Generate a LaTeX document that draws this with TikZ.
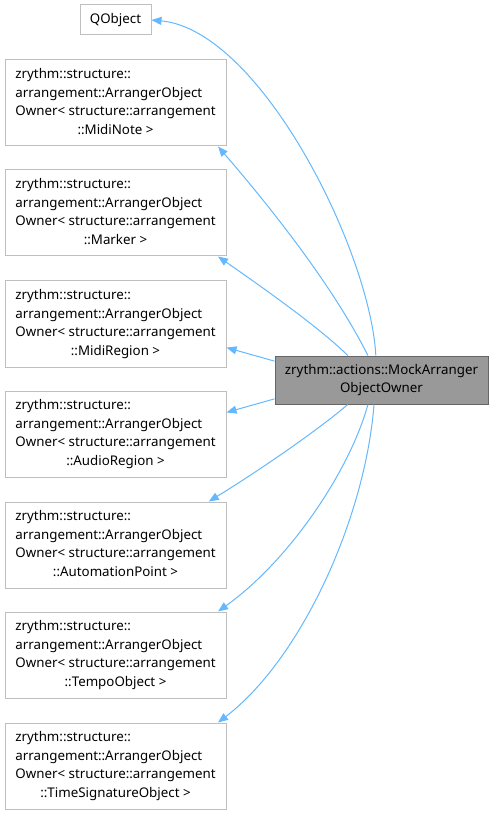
\documentclass[tikz,border=0pt]{standalone}
\usepackage{fontspec}
\setmainfont{Noto Sans}
\usetikzlibrary{arrows.meta}

\definecolor{edgeblue}{HTML}{63B8FF}
\definecolor{boxgray}{HTML}{BFBFBF}
\definecolor{maingray}{HTML}{999999}
\definecolor{mainborder}{HTML}{666666}

\tikzset{
    classbox/.style={draw=boxgray, fill=white, line width=0.75pt, inner sep=0pt,
        minimum width=165.75pt, minimum height=64.5pt,
        font=\fontsize{10}{13.9}\selectfont},
    mainbox/.style={draw=mainborder, fill=maingray, line width=0.75pt, inner sep=0pt,
        minimum width=159.75pt, minimum height=36pt, align=center,
        font=\fontsize{10}{13.9}\selectfont},
    inherit/.style={draw=edgeblue, line width=0.75pt, -{Triangle[length=7.5pt,width=6pt]}}
}

% label of one ArrangerObjectOwner instance
\newcommand{\ownerlabel}[1]{\begin{tabular}{@{}l@{}}
zrythm::structure::\\
arrangement::ArrangerObject\\
Owner< structure::arrangement\\
\multicolumn{1}{@{}c@{}}{::#1 >}
\end{tabular}}

\begin{document}
\begin{tikzpicture}[x=0.75pt, y=-0.75pt]
    \useasboundingbox (0,0) rectangle (494,816);

    % Base classes
    \node[classbox, minimum width=53.25pt, minimum height=22.5pt] (qobj) at (115.5, 20) {QObject};
    \node[classbox] (midinote) at (115.5, 103) {\ownerlabel{MidiNote}};
    \node[classbox] (marker) at (115.5, 213) {\ownerlabel{Marker}};
    \node[classbox] (midiregion) at (115.5, 324) {\ownerlabel{MidiRegion}};
    \node[classbox] (audioregion) at (115.5, 434) {\ownerlabel{AudioRegion}};
    \node[classbox] (autopoint) at (115.5, 545) {\ownerlabel{AutomationPoint}};
    \node[classbox] (tempo) at (115.5, 655) {\ownerlabel{TempoObject}};
    \node[classbox] (timesig) at (115.5, 766) {\ownerlabel{TimeSignatureObject}};

    % Derived class
    \node[mainbox] (mock) at (381.5, 380) {zrythm::actions::MockArranger\\ObjectOwner};

    % Inheritance edges
    \draw[inherit] (mock.103) .. controls (370, 250) and (260, 30) .. (qobj.east);
    \draw[inherit] (mock.119.4) .. controls (330, 280) and (260, 195) .. (midinote.-23.2);
    \draw[inherit] (mock.144.4) .. controls (320, 328) and (262, 287) .. (marker.-23.8);
    \draw[inherit] (mock.170) -- (midiregion.-12.3);
    \draw[inherit] (mock.-170) -- (audioregion.11.5);
    \draw[inherit] (mock.-144.4) .. controls (318, 430) and (260, 470) .. (autopoint.25.2);
    \draw[inherit] (mock.-119.4) .. controls (350, 470) and (290, 560) .. (tempo.23.6);
    \draw[inherit] (mock.-107.4) .. controls (365, 520) and (300, 660) .. (timesig.23.3);
\end{tikzpicture}
\end{document}
